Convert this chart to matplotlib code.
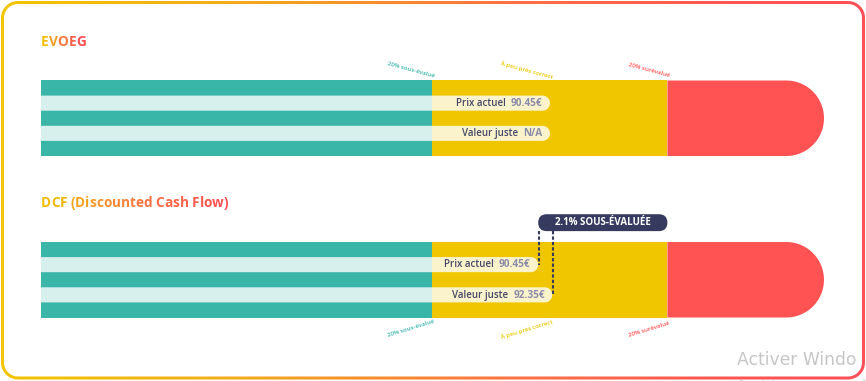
import numpy as np
import matplotlib.pyplot as plt
from matplotlib.patches import Rectangle, Polygon, FancyBboxPatch, PathPatch
from matplotlib.path import Path
from matplotlib.colors import LinearSegmentedColormap

plt.rcParams['font.family'] = ['Open Sans', 'DejaVu Sans']

# --- data (positions are % of the valuation track) ---
titles = ["EVOEG", "DCF (Discounted Cash Flow)"]
zone_names = ["20% sous-évalué", "À peu près correct", "20% surévalué"]
zone_edges = [0, 50, 80, 100]
zone_colors = ["#3AB6A9", "#EFC600", "#FF5252"]
row_labels = ["Prix actuel", "Valeur juste"]
row_values = [["90.45€", "N/A"], ["90.45€", "92.35€"]]
row_ends = [[65.0, 65.0], [63.5, 65.3]]
gap_label = "2.1% SOUS-ÉVALUÉE"

W, H = 866, 381
navy = "#363A5E"
border_cmap = LinearSegmentedColormap.from_list(
    "border", [(0, "#F2C500"), (0.25, "#F3AE18"), (0.45, "#F78A2E"),
               (0.6, "#FE7043"), (0.85, "#FF5552"), (1, "#FF4F58")])
title_cmap = LinearSegmentedColormap.from_list(
    "title", [(0, "#F2BC00"), (0.3, "#F7962A"), (0.6, "#FF6A45"), (1, "#FF5050")])

fig = plt.figure(figsize=(W / 100, H / 100), dpi=100)
bg = fig.add_axes([0, 0, 1, 1])
bg.set_xlim(0, W)
bg.set_ylim(H, 0)
bg.axis("off")


def rounded_rect_pts(x0, y0, x1, y1, r):
    pts = []
    corners = [(x1 - r, y0 + r, -90, 0), (x1 - r, y1 - r, 0, 90),
               (x0 + r, y1 - r, 90, 180), (x0 + r, y0 + r, 180, 270)]
    for cx, cy, a0, a1 in corners:
        a = np.radians(np.linspace(a0, a1, 16))
        pts.extend(zip(cx + r * np.cos(a), cy + r * np.sin(a)))
    return np.array(pts)


# gradient rounded border: gradient image clipped to a ring
outer = rounded_rect_pts(1.0, 1.0, 865.0, 379.5, 17)
inner = rounded_rect_pts(4.0, 4.0, 862.0, 376.5, 14)[::-1]
verts = np.vstack([outer, outer[:1], inner, inner[:1]])
codes = ([Path.MOVETO] + [Path.LINETO] * (len(outer) - 1) + [Path.CLOSEPOLY] +
         [Path.MOVETO] + [Path.LINETO] * (len(inner) - 1) + [Path.CLOSEPOLY])
ring = PathPatch(Path(verts, codes), fc="none", ec="none", transform=bg.transData)
bg.add_patch(ring)
img = bg.imshow(np.linspace(0, 1, 256)[None, :], cmap=border_cmap, aspect="auto",
                extent=[0, W, H, 0], interpolation="bilinear")
img.set_clip_path(ring)

# watermark (as visible in the screenshot)
bg.text(737, 365, "Activer Windo", fontsize=12.3, color="#C6C6C6",
        family=["DejaVu Sans"])
bg.text(737, 389, "Accédez aux paramètres", fontsize=9,
        color="#C6C6C6", family=["DejaVu Sans"])


def gradient_title(x, y, s):
    n = len(s)
    prev = None
    for i, ch in enumerate(s):
        c = title_cmap(float(i) / (n - 1))
        kw = dict(fontsize=9.8, fontweight="bold", color=c, va="bottom", ha="left")
        if prev is None:
            prev = bg.text(x, y, ch, **kw)
        else:
            prev = bg.annotate(ch, xy=(1, 0), xycoords=prev, **kw)


def right_rounded(x0, x1, y0, h, rx):
    t = np.linspace(-np.pi / 2, np.pi / 2, 40)
    xc = x1 - rx
    arc = np.column_stack([xc + rx * np.cos(t), y0 + h / 2 + h / 2 * np.sin(t)])
    return np.vstack([[x0, y0], arc, [x0, y0 + h]])


track_left, track_right = 41, 824
bar_tops = [80.5, 242]
bar_h = 75.5
title_y = [49, 210]
px_x = (track_right - track_left) / 100
px_row = bar_h / 5

for b in range(2):
    gradient_title(41, title_y[b], titles[b])
    ax = fig.add_axes([track_left / W, 1 - (bar_tops[b] + bar_h) / H,
                       (track_right - track_left) / W, bar_h / H])
    ax.set_xlim(0, 100)
    ax.set_ylim(5, 0)
    ax.axis("off")

    rx_end = (bar_h / 2) / px_x
    for z in range(3):
        x0, x1 = zone_edges[z], zone_edges[z + 1]
        if z == 2:
            ax.add_patch(Polygon(right_rounded(x0, x1, 0, 5, rx_end), closed=True,
                                 fc=zone_colors[z], ec="none", lw=0))
        else:
            ax.add_patch(Rectangle((x0, 0), x1 - x0, 5, fc=zone_colors[z], ec="none", lw=0))

    rx_pill = (px_row / 2) / px_x
    for r in range(2):
        y0 = 1 + 2 * r
        end = row_ends[b][r]
        ax.add_patch(Polygon(right_rounded(0, end, y0, 1, rx_pill), closed=True,
                             fc="white", alpha=0.8, ec="none", lw=0))
        vt = ax.text(end - 7.5 / px_x, y0 + 0.52, row_values[b][r], ha="right", va="center",
                     fontsize=7.2, fontweight="bold", color="#8A8BA8")
        ax.annotate(row_labels[r], xy=(0, 0.5), xycoords=vt, xytext=(-3.5, 0),
                    textcoords="offset points", ha="right", va="center",
                    fontsize=7.0, fontweight="semibold", color="#45486A")

    # zone captions
    label_x = [47.2, 62.0, 77.6]
    if b == 0:
        ly, rot = -0.72, -15
    else:
        ly, rot = 5.75, 17
    for z in range(3):
        ax.text(label_x[z], ly, zone_names[z], ha="center", va="center", rotation=rot,
                fontsize=4.4, fontweight="semibold", color=zone_colors[z], clip_on=False)

# gap bubble on the DCF bar
asp = px_x / px_row
ax.add_patch(FancyBboxPatch((row_ends[1][0], -1.84), 80 - row_ends[1][0], 1.12,
                            boxstyle="round,pad=0,rounding_size=%f" % (8.5 / px_x),
                            mutation_aspect=asp, fc=navy, ec="none", clip_on=False))
ax.text((row_ends[1][0] + 80) / 2, -1.28, gap_label, ha="center", va="center",
        fontsize=7.0, fontweight="bold", color="white", clip_on=False)
for r in range(2):
    ax.plot([row_ends[1][r] + 0.1, row_ends[1][r] + 0.1], [-0.72, 1.5 + 2 * r],
            color=navy, lw=1.5, linestyle=(0, (1.6, 1.0)), clip_on=False)

fig.savefig("out.png", dpi=100)
